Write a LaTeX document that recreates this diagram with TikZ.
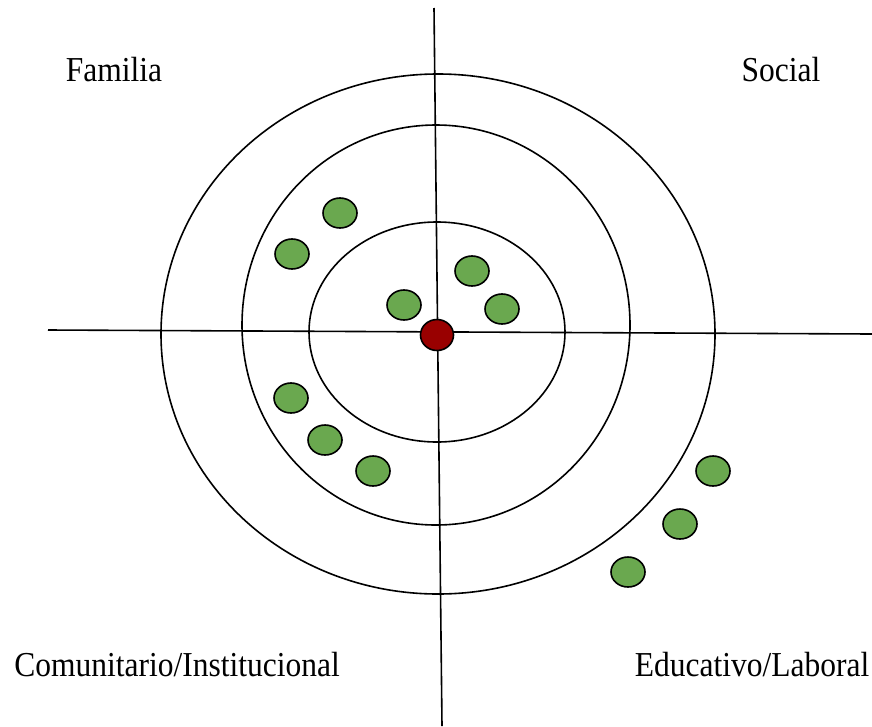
\documentclass[tikz,border=0pt]{standalone}
\usepackage{fontspec}
\setmainfont{Liberation Serif}[FakeStretch=0.9]
\usetikzlibrary{shapes.geometric}

\definecolor{contactgreen}{HTML}{6AA84F}
\definecolor{egored}{HTML}{990000}

\tikzset{
  dot/.style={ellipse,draw,line width=1.6pt,fill=contactgreen,minimum width=34pt,minimum height=30pt,inner sep=0pt},
  egodot/.style={ellipse,draw,line width=1.6pt,fill=egored,minimum width=33pt,minimum height=31pt,inner sep=0pt},
  zone/.style={font=\fontsize{35}{40}\selectfont,inner sep=0pt}
}

\begin{document}
\begin{tikzpicture}[x=1pt,y=-1pt,line width=1.6pt]
\useasboundingbox (0,0) rectangle (872,726);

% axes
\coordinate (top) at (434,8);
\coordinate (bottom) at (442,726);
\coordinate (left) at (48,330);
\coordinate (right) at (872,334);
\draw (top) -- (bottom);
\draw (left) -- (right);

% rings
\draw (438,334) ellipse [x radius=277, y radius=260];
\draw (436,325) ellipse [x radius=194, y radius=200];
\draw (437,332) ellipse [x radius=128, y radius=110];

% ego
\node [egodot] (ego) at (437,335) {};

% contacts
\foreach \i / \pos in {1/{340,213},2/{292,254},3/{472,271},4/{404,305},5/{502,309},6/{291,398},7/{325,440},8/{373,471},9/{713,471},10/{680,524},11/{628,572}}
  \node [dot] (c\i) at (\pos) {};

% labels
\node [zone] (familia) at (114,70) {Familia};
\node [zone] (social) at (781,70) {Social};
\node [zone] (comunitario) at (177,665) {Comunitario/Institucional};
\node [zone] (educativo) at (752,665) {Educativo/Laboral};

\end{tikzpicture}
\end{document}
